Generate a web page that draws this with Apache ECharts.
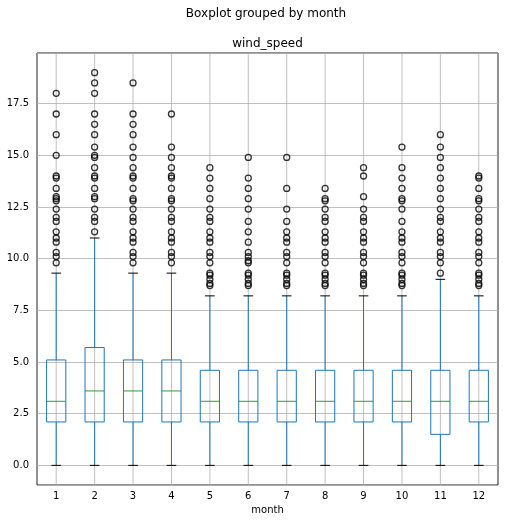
<!DOCTYPE html>
<html>
<head>
<meta charset="utf-8">
<script src="https://cdn.jsdelivr.net/npm/echarts@6/dist/echarts.min.js"></script>
<style>
  html, body { margin: 0; padding: 0; background: #fff; }
  #chart { width: 508px; height: 523px; }
</style>
</head>
<body>
<div id="chart"></div>
<script>
// box values, per month
var months = ['1', '2', '3', '4', '5', '6', '7', '8', '9', '10', '11', '12'];
var whiskerLow = [0, 0, 0, 0, 0, 0, 0, 0, 0, 0, 0, 0];
var q1 = [2.1, 2.1, 2.1, 2.1, 2.1, 2.1, 2.1, 2.1, 2.1, 2.1, 1.5, 2.1];
var medians = [3.1, 3.6, 3.6, 3.6, 3.1, 3.1, 3.1, 3.1, 3.1, 3.1, 3.1, 3.1];
var q3 = [5.1, 5.7, 5.1, 5.1, 4.6, 4.6, 4.6, 4.6, 4.6, 4.6, 4.6, 4.6];
var whiskerHigh = [9.3, 11.0, 9.3, 9.3, 8.2, 8.2, 8.2, 8.2, 8.2, 8.2, 9.0, 8.2];

// fliers
var outliers1 = [18.0, 17.0, 16.0, 15.0, 14.0, 13.9, 13.4, 13.0, 12.9, 12.8, 12.4, 12.0, 11.8, 11.3, 11.0, 10.8, 10.3, 10.1, 9.8];
var outliers2 = [19.0, 18.5, 18.0, 17.0, 16.5, 16.0, 15.4, 15.0, 14.9, 14.4, 14.0, 13.9, 13.4, 13.0, 12.9, 12.4, 12.0, 11.8, 11.3];
var outliers3 = [18.5, 17.0, 16.5, 16.0, 15.4, 14.9, 14.4, 14.0, 13.9, 13.4, 12.9, 12.8, 12.4, 12.0, 11.8, 11.3, 11.0, 10.8, 10.3, 10.1, 9.8];
var outliers4 = [17.0, 15.4, 14.9, 14.4, 14.0, 13.9, 13.4, 12.9, 12.8, 12.4, 12.0, 11.8, 11.3, 11.0, 10.8, 10.3, 10.1, 9.8];
var outliers5 = [14.4, 13.9, 13.4, 12.9, 12.4, 12.0, 11.8, 11.3, 11.0, 10.8, 10.3, 10.1, 9.8, 9.3, 9.2, 9.0, 8.8, 8.7];
var outliers6 = [14.9, 13.9, 13.4, 12.9, 12.4, 11.8, 11.3, 10.8, 10.3, 10.1, 9.9, 9.8, 9.3, 9.2, 9.0, 8.8, 8.7];
var outliers7 = [14.9, 13.4, 12.4, 11.8, 11.3, 11.0, 10.8, 10.3, 10.1, 9.8, 9.3, 9.2, 9.0, 8.8, 8.7];
var outliers8 = [13.4, 12.9, 12.8, 12.4, 12.0, 11.8, 11.3, 11.0, 10.8, 10.3, 10.1, 9.8, 9.3, 9.2, 9.0, 8.8, 8.7];
var outliers9 = [14.4, 14.0, 13.0, 12.4, 12.0, 11.8, 11.3, 11.0, 10.8, 10.3, 10.1, 9.8, 9.3, 9.2, 9.0, 8.8, 8.7];
var outliers10 = [15.4, 14.4, 13.9, 13.4, 12.9, 12.8, 12.4, 11.8, 11.3, 11.0, 10.8, 10.3, 10.1, 9.8, 9.3, 9.2, 9.0, 8.8, 8.7];
var outliers11 = [16.0, 15.4, 14.9, 14.4, 13.9, 13.4, 12.9, 12.4, 12.0, 11.8, 11.3, 11.0, 10.8, 10.3, 10.1, 9.8, 9.3];
var outliers12 = [14.0, 13.9, 13.4, 12.9, 12.8, 12.4, 12.0, 11.8, 11.3, 11.0, 10.8, 10.3, 10.1, 9.8, 9.3, 9.2, 9.0, 8.8, 8.7];

var allOutliers = [outliers1, outliers2, outliers3, outliers4, outliers5, outliers6,
                   outliers7, outliers8, outliers9, outliers10, outliers11, outliers12];

var boxData = months.map(function (m, i) {
    return [i, whiskerLow[i], q1[i], medians[i], q3[i], whiskerHigh[i]];
});
var flierData = [];
allOutliers.forEach(function (arr, i) {
    arr.forEach(function (v) { flierData.push([i, v]); });
});

var BLUE = '#1f77b4', GREEN = '#2ca02c', GRID = '#b0b0b0';

function renderBox(params, api) {
    var i = api.value(0);
    var band = api.size([1, 0])[0];
    var boxW = band * 0.5, capW = band * 0.25;
    var cs = params.coordSys;
    var lo = api.coord([i, api.value(1)]);
    var b1 = api.coord([i, api.value(2)]);
    var md = api.coord([i, api.value(3)]);
    var b3 = api.coord([i, api.value(4)]);
    var hi = api.coord([i, api.value(5)]);
    var x = lo[0];
    function seg(x1, y1, x2, y2, color, w) {
        return { type: 'line', shape: { x1: x1, y1: y1, x2: x2, y2: y2 },
                 style: { stroke: color, lineWidth: w || 1 } };
    }
    return {
        type: 'group',
        children: [
            seg(x, cs.y, x, cs.y + cs.height, GRID, 0.8),
            seg(x, lo[1], x, b1[1], BLUE),
            seg(x, b3[1], x, hi[1], BLUE),
            { type: 'rect', shape: { x: x - boxW / 2, y: b3[1], width: boxW, height: b1[1] - b3[1] },
              style: { fill: 'none', stroke: BLUE, lineWidth: 1 } },
            seg(x - boxW / 2, md[1], x + boxW / 2, md[1], GREEN),
            seg(x - capW / 2, lo[1], x + capW / 2, lo[1], '#000'),
            seg(x - capW / 2, hi[1], x + capW / 2, hi[1], '#000')
        ]
    };
}

var myChart = echarts.init(document.getElementById('chart'), null, { renderer: 'canvas' });

option = {
    animation: false,
    backgroundColor: '#fff',
    textStyle: { fontFamily: 'DejaVu Sans' },
    title: [{
        text: 'Boxplot grouped by month',
        left: 266, top: 8, padding: 0, textAlign: 'center',
        textStyle: { fontSize: 12, fontWeight: 'normal', color: '#000' }
    }, {
        text: 'wind_speed',
        left: 267.5, top: 38, padding: 0, textAlign: 'center',
        textStyle: { fontSize: 12, fontWeight: 'normal', color: '#000' }
    }],
    grid: {
        left: 37, right: 10, top: 53, bottom: 38,
        show: true, borderColor: '#222', borderWidth: 1,
        backgroundColor: 'transparent'
    },
    xAxis: {
        type: 'category',
        data: months,
        boundaryGap: true,
        axisLine: { show: false },
        axisTick: { show: false },
        splitLine: { show: false },
        axisLabel: { fontSize: 10, color: '#000', margin: 6 },
        name: 'month',
        nameLocation: 'middle',
        nameGap: 19,
        nameTextStyle: { fontSize: 10, color: '#000' }
    },
    yAxis: {
        type: 'value',
        min: -0.95,
        max: 19.95,
        minInterval: 2.5,
        maxInterval: 2.5,
        axisLine: { show: false },
        axisTick: { show: false },
        splitLine: { show: true, lineStyle: { color: GRID, width: 0.8 } },
        axisLabel: {
            fontSize: 10, color: '#000', margin: 8,
            showMinLabel: false, showMaxLabel: false,
            formatter: function (v) { return v.toFixed(1); }
        }
    },
    series: [{
        type: 'custom',
        name: 'boxes',
        renderItem: renderBox,
        encode: { x: 0, y: [1, 2, 3, 4, 5] },
        data: boxData,
        z: 2
    }, {
        type: 'scatter',
        name: 'fliers',
        data: flierData,
        symbol: 'circle',
        symbolSize: 6,
        itemStyle: { color: 'rgba(0,0,0,0)', borderColor: '#000', borderWidth: 1.3 },
        z: 3
    }]
};

myChart.setOption(option);
</script>
</body>
</html>
